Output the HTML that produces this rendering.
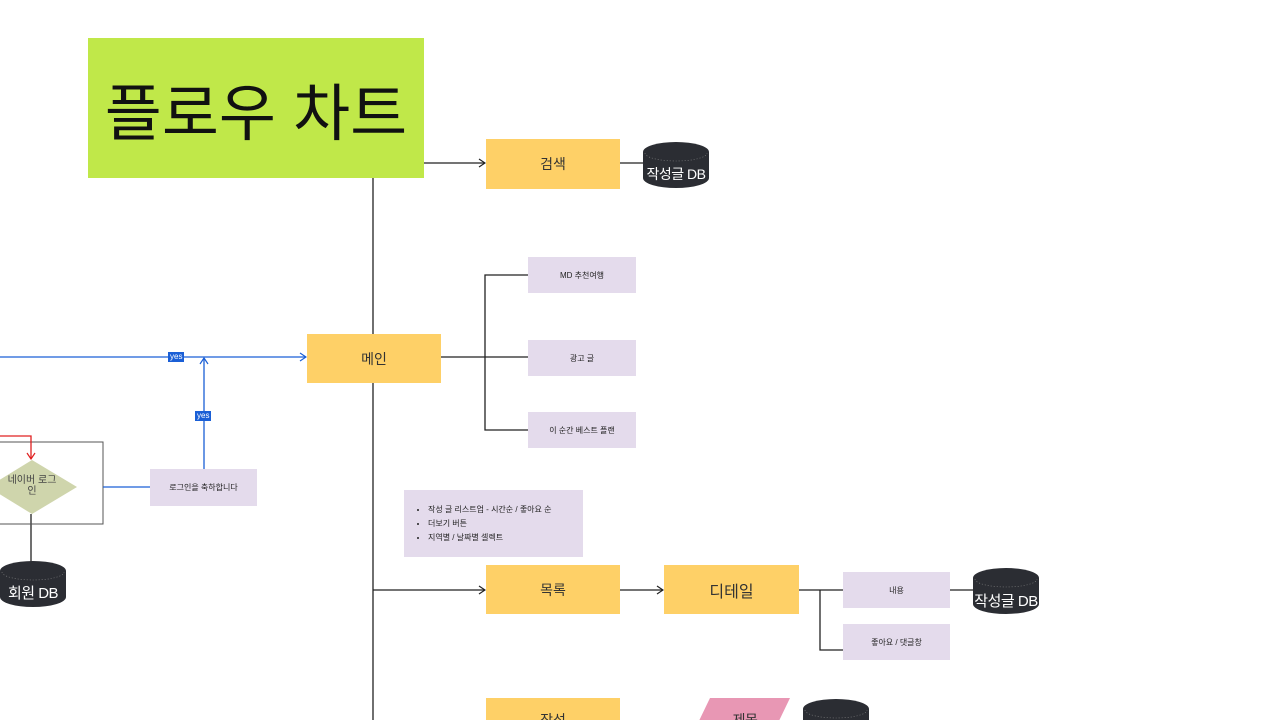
<!DOCTYPE html>
<html><head><meta charset="utf-8">
<style>
html,body{margin:0;padding:0;width:1280px;height:720px;overflow:hidden;background:#fff;font-family:"Liberation Sans","Noto Sans CJK KR",sans-serif;}
.b{position:absolute;display:flex;align-items:center;justify-content:center;text-align:center;box-sizing:border-box;}
.y{background:#fed067;color:#333;font-size:14px;}
.l{background:#e4dbec;color:#222;font-size:8px;}
.t{color:#fff;font-size:14px;position:absolute;text-align:center;white-space:nowrap;letter-spacing:-0.5px;}
.lab{position:absolute;background:#1a5fd6;color:#fff;font-size:8px;line-height:10px;padding:0 2px;}
</style></head><body>
<div style="position:absolute;left:0;top:0;width:1280px;height:720px;overflow:hidden;">
<svg width="1280" height="720" style="position:absolute;left:0;top:0">
<defs>
<marker id="a" markerWidth="8" markerHeight="10" refX="7" refY="5" orient="auto" markerUnits="userSpaceOnUse"><path d="M1,1 L7,5 L1,9" fill="none" stroke="#222" stroke-width="1.2"/></marker>
<marker id="ab" markerWidth="8" markerHeight="10" refX="7" refY="5" orient="auto" markerUnits="userSpaceOnUse"><path d="M1,1 L7,5 L1,9" fill="none" stroke="#1a5fd6" stroke-width="1.2"/></marker>
<marker id="ar" markerWidth="8" markerHeight="10" refX="7" refY="5" orient="auto" markerUnits="userSpaceOnUse"><path d="M1,1 L7,5 L1,9" fill="none" stroke="#e02020" stroke-width="1.2"/></marker>
</defs>
<g stroke="#222" stroke-width="1.3" fill="none">
<line x1="373" y1="178" x2="373" y2="334"/>
<line x1="373" y1="383" x2="373" y2="720"/>
<line x1="424" y1="163" x2="485" y2="163" marker-end="url(#a)"/>
<line x1="620" y1="163" x2="643" y2="163"/>
<line x1="441" y1="357" x2="528" y2="357"/>
<polyline points="528,275 485,275 485,430 528,430"/>
<line x1="373" y1="590" x2="485" y2="590" marker-end="url(#a)"/>
<line x1="620" y1="590" x2="663" y2="590" marker-end="url(#a)"/>
<line x1="799" y1="590" x2="843" y2="590"/>
<polyline points="820,590 820,650 843,650"/>
<line x1="950" y1="590" x2="973" y2="590"/>
<line x1="31" y1="514" x2="31" y2="562"/>
</g>
<rect x="-2" y="442" width="105" height="82" fill="none" stroke="#555" stroke-width="1"/>
<line x1="0" y1="357" x2="306" y2="357" stroke="#1a5fd6" stroke-width="1.3" marker-end="url(#ab)"/>
<line x1="204" y1="469" x2="204" y2="358" stroke="#1a5fd6" stroke-width="1.3" marker-end="url(#ab)"/>
<line x1="103" y1="487" x2="150" y2="487" stroke="#1a5fd6" stroke-width="1.3"/>
<polyline points="0,436 31,436 31,459" fill="none" stroke="#e02020" stroke-width="1.3" marker-end="url(#ar)"/>
<polygon points="-12,487 32,460 77,487 32,514" fill="#cfd5ac"/>
<g fill="#2b2d33">
<path d="M643,152 A33,10 0 0 1 709,152 L709,178 A33,10 0 0 1 643,178 Z"/>
<path d="M0,571 A33,10 0 0 1 66,571 L66,597 A33,10 0 0 1 0,597 Z"/>
<path d="M973,578 A33,10 0 0 1 1039,578 L1039,604 A33,10 0 0 1 973,604 Z"/>
<path d="M803,709 A33,10 0 0 1 869,709 L869,735 L803,735 Z"/>
</g>
<g fill="none" stroke="#888" stroke-width="0.6" stroke-dasharray="1,2">
<path d="M645,153 A31,8 0 0 0 707,153"/>
<path d="M2,572 A31,8 0 0 0 64,572"/>
<path d="M975,579 A31,8 0 0 0 1037,579"/>
<path d="M805,710 A31,8 0 0 0 867,710"/>
</g>
<polygon points="710,698 790,698 777,725 697,725" fill="#e897b4"/>
</svg>

<div class="b" style="left:88px;top:38px;width:336px;height:140px;background:#c0e849;font-size:62px;color:#111;">플로우 차트</div>
<div class="b y" style="left:486px;top:139px;width:134px;height:50px;">검색</div>
<div class="t" style="left:638px;top:164px;width:76px;">작성글 DB</div>
<div class="b y" style="left:307px;top:334px;width:134px;height:49px;">메인</div>
<div class="b l" style="left:528px;top:257px;width:108px;height:36px;">MD 추천여행</div>
<div class="b l" style="left:528px;top:340px;width:108px;height:36px;">광고 글</div>
<div class="b l" style="left:528px;top:412px;width:108px;height:36px;">이 순간 베스트 플랜</div>
<div class="lab" style="left:168px;top:352px;">yes</div>
<div class="lab" style="left:195px;top:411px;">yes</div>
<div class="b l" style="left:150px;top:469px;width:107px;height:37px;">로그인을 축하합니다</div>
<div class="b" style="left:-8px;top:475px;width:80px;font-size:10px;line-height:11px;color:#444;">네이버 로그<br>인</div>
<div class="t" style="left:-5px;top:582px;width:76px;font-size:15px;">회원 DB</div>
<div class="b l" style="left:404px;top:490px;width:179px;height:67px;justify-content:flex-start;text-align:left;">
<ul style="margin:0;padding-left:24px;line-height:14px;"><li>작성 글 리스트업 - 시간순 / 좋아요 순</li><li>더보기 버튼</li><li>지역별 / 날짜별 셀렉트</li></ul></div>
<div class="b y" style="left:486px;top:565px;width:134px;height:49px;">목록</div>
<div class="b y" style="left:664px;top:565px;width:135px;height:49px;font-size:16px;">디테일</div>
<div class="b l" style="left:843px;top:572px;width:107px;height:36px;">내용</div>
<div class="b l" style="left:843px;top:624px;width:107px;height:36px;">좋아요 / 댓글창</div>
<div class="t" style="left:966px;top:590px;width:80px;font-size:15px;">작성글 DB</div>
<div class="b y" style="left:486px;top:698px;width:134px;height:49px;align-items:flex-start;padding-top:12px;">작성</div>
<div class="t" style="left:705px;top:710px;width:80px;color:#333;">제목</div>
</div>
</body></html>
